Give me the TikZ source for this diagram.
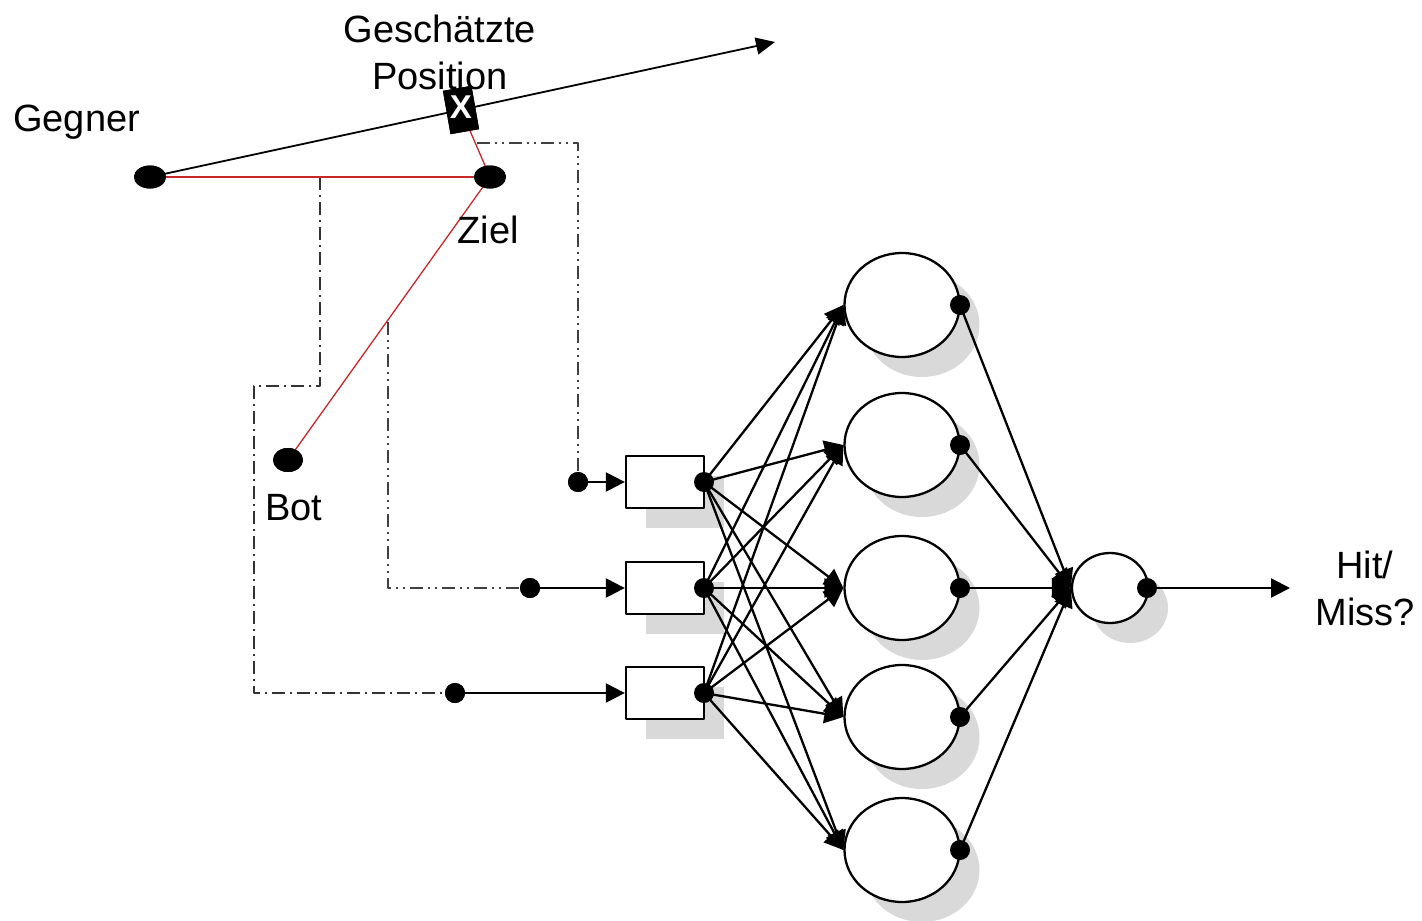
\documentclass[tikz,border=0pt]{standalone}
\usepackage{fontspec}
\setmainfont{Liberation Sans}
\usetikzlibrary{arrows.meta,shapes.geometric,shadows}
\begin{document}
\begin{tikzpicture}[x=1pt,y=-1pt,line join=round,
  wire/.style={line width=2.3pt},
  arr/.style={wire,-{Triangle[length=19pt,width=19pt]}},
  redline/.style={line width=1.3pt,draw={rgb,255:red,200;green,40;blue,40}},
  dashA/.style={line width=1.8pt,draw=black!80,dash pattern=on 13pt off 5pt on 2pt off 5pt},
  dashB/.style={line width=1.8pt,draw=black!75,dash pattern=on 13pt off 5pt on 2pt off 5pt on 2pt off 5pt},
  blob/.style={ellipse,fill=black,inner sep=0pt,minimum width=32pt,minimum height=23pt},
  pin/.style={circle,fill=black,inner sep=0pt,minimum size=20pt},
  shade/.style={drop shadow={shadow xshift=20pt,shadow yshift=-20pt,fill=black!15,opacity=1}},
  inbox/.style={rectangle,draw,line width=2.3pt,fill=white,inner sep=0pt,minimum width=78pt,minimum height=52pt,shade},
  neuron/.style={ellipse,draw,line width=2.3pt,fill=white,inner sep=0pt,minimum width=115pt,minimum height=104pt,shade},
  outneuron/.style={ellipse,draw,line width=2.3pt,fill=white,inner sep=0pt,minimum width=76pt,minimum height=70pt,shade},
  marker/.style={fill=black,minimum width=29pt,minimum height=44pt,inner sep=0pt,rotate=10},
  lbl/.style={font=\fontsize{38}{47}\selectfont,align=center,inner sep=0pt}]
\useasboundingbox (0,0) rectangle (1422,921);

% scene: opponent, target, bot
\node[blob] (gegner) at (150,177) {};
\node[blob] (ziel) at (490,177) {};
\node[blob,minimum width=30pt,minimum height=24pt] (bot) at (288,460) {};
\coordinate (flight) at (775,42);

% input layer
\node[inbox] (b1) at (665,482) {};
\node[inbox] (b2) at (665,588) {};
\node[inbox] (b3) at (665,693) {};
\node[pin] (o1) at (704,482) {};
\node[pin] (o2) at (704,588) {};
\node[pin] (o3) at (704,693) {};
\node[pin] (i1) at (578,482) {};
\node[pin] (i2) at (530,588) {};
\node[pin] (i3) at (455,693) {};

% hidden layer
\foreach \k/\y in {1/305,2/445,3/588,4/717,5/850}{
  \node[neuron] (h\k) at (902,\y) {};
}
% output neuron
\node[outneuron] (out) at (1110,588) {};
\coordinate (res) at (1290,588);

% connections input -> hidden
\foreach \i in {1,2,3}{
  \foreach \k in {1,...,5}{
    \draw[arr] (o\i.center) -- (h\k.west);
  }
}
% hidden output pins and connections hidden -> output
\foreach \k/\y in {1/305,2/445,3/588,4/717,5/850}{
  \node[pin] (hp\k) at (960,\y) {};
  \draw[arr] (hp\k.center) -- (out.west);
}
\node[pin] (op) at (1147,588) {};
\draw[arr] (op.center) -- (res);

% inputs -> boxes
\draw[arr] (i1.center) -- (b1.west);
\draw[arr] (i2.center) -- (b2.west);
\draw[arr] (i3.center) -- (b3.west);

% estimated position marker
\node[marker] (mark) at (461,110) {};

% measurement taps
\coordinate (t1) at (320,177);
\coordinate (t2) at (388,322);
\coordinate (t3) at (477,143);
\draw[dashA] (t1) -- (320,386) -- (254,386) -- (254,693) -- (i3.center);
\draw[dashB] (t2) -- (388,588) -- (i2.center);
\draw[dashB] (t3) -- (578,143) -- (i1.center);

% geometry lines
\draw[redline] (gegner.center) -- (ziel.center);
\draw[redline] (ziel.center) -- (bot.center);
\draw[redline] (ziel.center) -- (mark.center);
\draw[line width=1.8pt,-{Triangle[length=19pt,width=17pt]}] (gegner.center) -- (flight);

% redraw marker and dots on top
\node[marker] at (mark) {};
\node[text=white,font=\fontsize{33}{33}\selectfont\bfseries,inner sep=0pt] at (461,107) {X};
\node[blob] at (gegner) {};
\node[blob] at (ziel) {};
\node[blob,minimum width=30pt,minimum height=24pt] at (bot) {};
\node[pin] at (i1) {};
\node[pin] at (i2) {};
\node[pin] at (i3) {};

% labels
\node[lbl,anchor=west] (lg) at (13,122) {Gegner};
\node[lbl] (lz) at (488,230) {Ziel};
\node[lbl] (lb) at (294,508) {Bot};
\node[lbl] (lp) at (440,52) {Geschätzte\\Position};
\node[lbl] (lh) at (1365,588) {Hit/\\Miss?};
\end{tikzpicture}
\end{document}
